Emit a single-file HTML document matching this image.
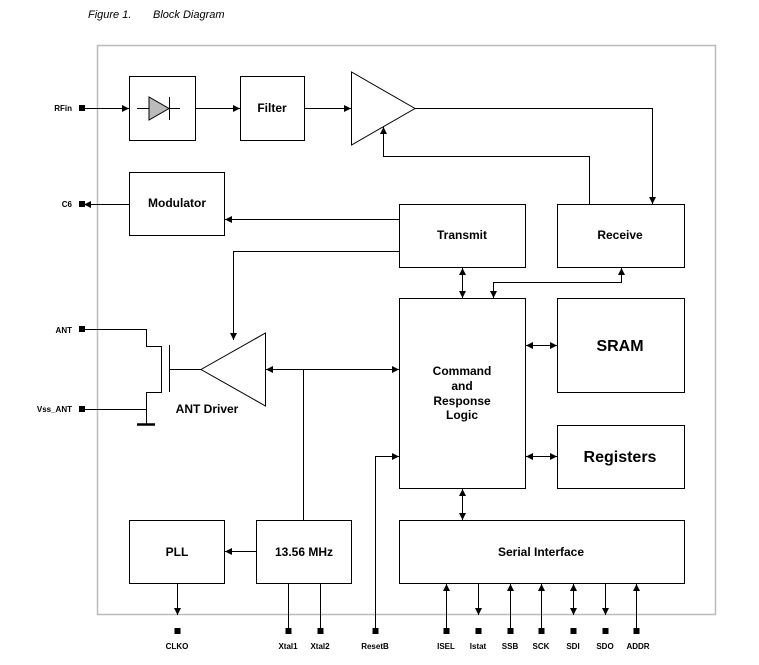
<!DOCTYPE html>
<html><head><style>body{margin:0;background:#fff}svg{display:block}text{font-family:"Liberation Sans",Arial,sans-serif;font-weight:bold;fill:#000}</style></head><body>
<svg width="759" height="665" viewBox="0 0 759 665" xmlns="http://www.w3.org/2000/svg">
<defs><marker id="a" viewBox="0 0 10 10" refX="10" refY="5" markerWidth="7" markerHeight="7" orient="auto-start-reverse" markerUnits="userSpaceOnUse"><path d="M0,0L10,5L0,10z" fill="#000"/></marker></defs>
<text x="88" y="18" font-size="11" style="font-weight:normal;font-style:italic">Figure 1.</text>
<text x="153" y="18" font-size="11" style="font-weight:normal;font-style:italic">Block Diagram</text>
<rect x="97.5" y="45.5" width="618" height="569" fill="none" stroke="#bbb" stroke-width="1.5"/>
<g fill="none" stroke="#000" stroke-width="1">
<rect x="129.5" y="76.5" width="66" height="64"/>
<rect x="240.5" y="76.5" width="64" height="64"/>
<path d="M351.5,72L351.5,145L415,108.5Z"/>
<rect x="129.5" y="172.5" width="95" height="63"/>
<rect x="399.5" y="204.5" width="126" height="63"/>
<rect x="557.5" y="204.5" width="127" height="63"/>
<rect x="399.5" y="298.5" width="126" height="190"/>
<rect x="557.5" y="298.5" width="127" height="94"/>
<rect x="557.5" y="425.5" width="127" height="63"/>
<rect x="399.5" y="520.5" width="285" height="63"/>
<rect x="129.5" y="520.5" width="95" height="63"/>
<rect x="256.5" y="520.5" width="95" height="63"/>
<path d="M265.5,333L265.5,406L201,369.5Z"/>
<path d="M137,108.5H149M169,108.5H180M169.5,97V120"/>
<path d="M84,108.5H129" marker-end="url(#a)"/>
<path d="M195,108.5H240" marker-end="url(#a)"/>
<path d="M304,108.5H351" marker-end="url(#a)"/>
<path d="M415,108.5H652.5V204" marker-end="url(#a)"/>
<path d="M589.5,204V156.5H383.5V127" marker-end="url(#a)"/>
<path d="M129,204.5H84" marker-end="url(#a)"/>
<path d="M399,219.5H225" marker-end="url(#a)"/>
<path d="M399,251.5H233.5V340" marker-end="url(#a)"/>
<path d="M462.5,268V298" marker-start="url(#a)" marker-end="url(#a)"/>
<path d="M621.5,268V282.5H493.5V298" marker-start="url(#a)" marker-end="url(#a)"/>
<path d="M266,369.5H399" marker-start="url(#a)" marker-end="url(#a)"/>
<path d="M303.5,369.5V520"/>
<path d="M526,345.5H557" marker-start="url(#a)" marker-end="url(#a)"/>
<path d="M526,456.5H557" marker-start="url(#a)" marker-end="url(#a)"/>
<path d="M462.5,489V520" marker-start="url(#a)" marker-end="url(#a)"/>
<path d="M375.5,631V456.5H399" marker-end="url(#a)"/>
<path d="M256,551.5H225" marker-end="url(#a)"/>
<path d="M177.5,584V615" marker-end="url(#a)"/>
<path d="M288.5,584V631M320.5,584V631"/>
<path d="M446.5,631V584" marker-end="url(#a)"/>
<path d="M478.5,584V615" marker-end="url(#a)"/>
<path d="M510.5,631V584" marker-end="url(#a)"/>
<path d="M541.5,631V584" marker-end="url(#a)"/>
<path d="M573.5,615V584" marker-start="url(#a)" marker-end="url(#a)"/>
<path d="M605.5,584V615" marker-end="url(#a)"/>
<path d="M636.5,631V584" marker-end="url(#a)"/>
<path d="M84,329.5H146.5V346.5H161.5V392.5H146.5V409.5H84M146.5,409V424"/>
<path d="M169.5,345V392M169.5,369.5H201"/>
</g>
<path d="M149,97V120L169,108.5Z" fill="#bbb" stroke="#000"/>
<path d="M137,424.5H155" stroke="#000" stroke-width="2.5"/>
<g fill="#000">
<rect x="79" y="105" width="6" height="6"/><rect x="79" y="201" width="6" height="6"/>
<rect x="79" y="326" width="6" height="6"/><rect x="79" y="406" width="6" height="6"/>
<rect x="174.5" y="628" width="6" height="6"/><rect x="285.5" y="628" width="6" height="6"/>
<rect x="317.5" y="628" width="6" height="6"/><rect x="372.5" y="628" width="6" height="6"/>
<rect x="443.5" y="628" width="6" height="6"/><rect x="475.5" y="628" width="6" height="6"/>
<rect x="507.5" y="628" width="6" height="6"/><rect x="538.5" y="628" width="6" height="6"/>
<rect x="570.5" y="628" width="6" height="6"/><rect x="602.5" y="628" width="6" height="6"/>
<rect x="633.5" y="628" width="6" height="6"/>
</g>
<g font-size="8" text-anchor="end">
<text x="72" y="111">RFin</text><text x="72" y="207">C6</text>
<text x="72" y="333">ANT</text><text x="72" y="412">Vss_ANT</text>
</g>
<g font-size="8" text-anchor="middle">
<text x="177" y="649">CLKO</text><text x="288" y="649">Xtal1</text><text x="320" y="649">Xtal2</text>
<text x="375" y="649">ResetB</text><text x="446" y="649">ISEL</text><text x="478" y="649">Istat</text>
<text x="510" y="649">SSB</text><text x="541" y="649">SCK</text><text x="573" y="649">SDI</text>
<text x="605" y="649">SDO</text><text x="638" y="649">ADDR</text>
</g>
<g font-size="12" text-anchor="middle">
<text x="272" y="112">Filter</text>
<text x="177" y="207">Modulator</text>
<text x="462" y="239">Transmit</text>
<text x="620" y="239">Receive</text>
<text x="462" y="375">Command</text><text x="462" y="390">and</text>
<text x="462" y="405">Response</text><text x="462" y="419">Logic</text>
<text x="541" y="556">Serial Interface</text>
<text x="177" y="556">PLL</text>
<text x="304" y="556">13.56 MHz</text>
<text x="207" y="413">ANT Driver</text>
</g>
<text x="620" y="351" font-size="16" text-anchor="middle">SRAM</text>
<text x="620" y="462" font-size="16" text-anchor="middle">Registers</text>
</svg>
</body></html>
